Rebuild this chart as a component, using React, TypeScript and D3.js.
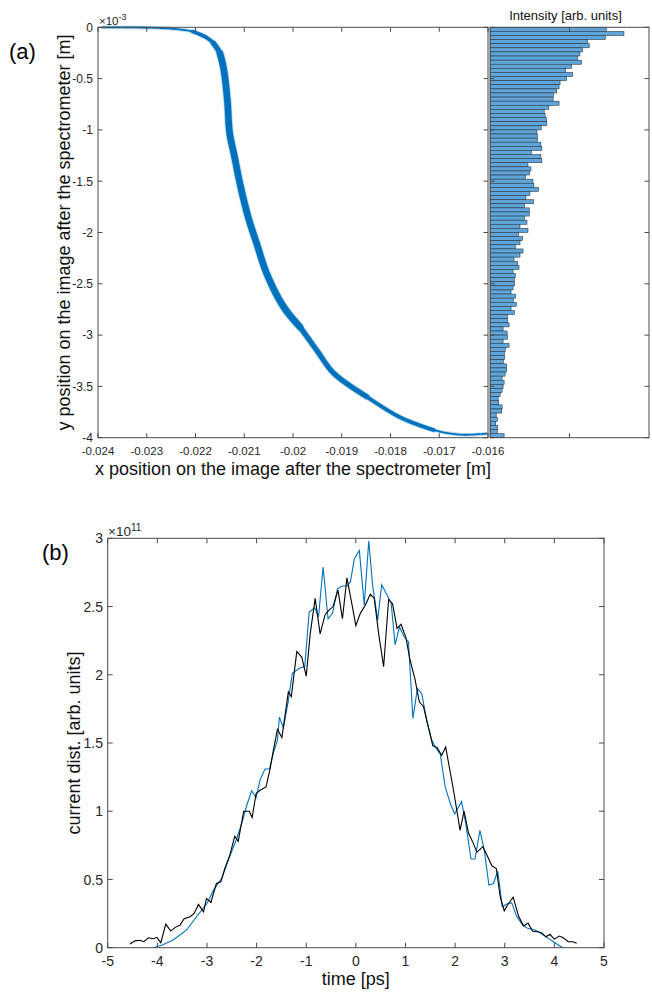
import React from 'react';
import * as d3 from 'd3';

// ---------- Panel (a): scatter centreline (x in m, y in 1e-3 m) and band width (px) ----------
const curveX = [-0.0239, -0.0226, -0.02205, -0.02176, -0.02163, -0.0215, -0.02143, -0.02138, -0.02134, -0.0213, -0.0212, -0.02109, -0.02092, -0.02075, -0.02054, -0.0202, -0.01986, -0.01951, -0.01917, -0.01849, -0.01781, -0.01712, -0.01657, -0.01603];
const curveY = [0, -0.01, -0.043, -0.104, -0.156, -0.253, -0.384, -0.55, -0.75, -1.03, -1.26, -1.52, -1.85, -2.10, -2.40, -2.72, -2.92, -3.15, -3.37, -3.60, -3.80, -3.925, -3.97, -3.96];
const curveW = [1.8, 1.8, 2.5, 3.5, 4.5, 5.5, 6.5, 7, 7, 7, 7, 7, 7, 7, 7, 6.5, 6, 5.5, 5, 4, 3.5, 2.5, 2, 2];
const bandLevels = [1.8, 3.5, 5, 6.5];

const xTicksA = [-0.024, -0.023, -0.022, -0.021, -0.02, -0.019, -0.018, -0.017, -0.016];
const yTicksA = [0, -0.5, -1, -1.5, -2, -2.5, -3, -3.5, -4];

// ---------- Histogram (100 bins from 0 to -4e-3) ----------
const histValues = [
  116.7, 134.3, 115.7, 97.7, 99.3, 92.7, 90, 87.7, 91.7, 81.7,
  75.7, 82.7, 76.7, 70, 69, 66.7, 63.3, 63, 69, 58.7,
  54, 55, 56.3, 56.7, 51, 46.7, 47.3, 47.3, 50.7, 51.7,
  41, 50.7, 51.7, 37.7, 40.7, 39.3, 35, 42.7, 43.7, 48.3,
  39.7, 35.7, 43.3, 34, 39, 39, 34.3, 36.7, 29.7, 37.7,
  28.3, 32.3, 29.7, 25, 32.7, 29.7, 23.7, 27.3, 28.7, 22.7,
  25, 24, 24.3, 22.7, 20.7, 25.3, 23, 26, 20.7, 24,
  17, 17.3, 18.7, 12.7, 16.7, 17.3, 12.7, 18.7, 15, 14,
  14.3, 13, 16.3, 16.3, 14.7, 11.7, 13.7, 12.7, 11.7, 9.7,
  7.7, 8.3, 11.7, 11.3, 5.7, 7, 5.3, 7.3, 7, 13.7,
];
const histDomain = [0, 160];
const histTicks = [80];

// ---------- Panel (b) ----------
const timeTicks = [-5, -4, -3, -2, -1, 0, 1, 2, 3, 4, 5];
const currentTicks = [0, 0.5, 1, 1.5, 2, 2.5, 3];

const blackT = [-4.55, -4.45, -4.35, -4.27, -4.18, -4.08, -4.01, -3.93, -3.83, -3.73, -3.64, -3.54, -3.46, -3.34, -3.26, -3.17, -3.07, -3.01, -2.92, -2.81, -2.72, -2.64, -2.54, -2.44, -2.37, -2.26, -2.15, -2.09, -2.01, -1.93, -1.81, -1.73, -1.66, -1.58, -1.49, -1.36, -1.30, -1.19, -1.09, -1.00, -0.92, -0.82, -0.72, -0.62, -0.55, -0.46, -0.36, -0.27, -0.18, -0.08, 0.00, 0.09, 0.19, 0.29, 0.37, 0.46, 0.56, 0.66, 0.74, 0.83, 0.91, 1.01, 1.09, 1.19, 1.28, 1.36, 1.46, 1.55, 1.63, 1.73, 1.81, 1.97, 2.10, 2.18, 2.27, 2.36, 2.44, 2.56, 2.64, 2.74, 2.83, 2.91, 2.99, 3.07, 3.17, 3.28, 3.38, 3.47, 3.56, 3.66, 3.74, 3.83, 3.91, 4.00, 4.10, 4.18, 4.28, 4.37, 4.45];
const blackV = [0.027, 0.05, 0.055, 0.044, 0.073, 0.066, 0.076, 0.037, 0.173, 0.122, 0.149, 0.166, 0.212, 0.227, 0.251, 0.317, 0.263, 0.361, 0.332, 0.471, 0.483, 0.58, 0.678, 0.817, 0.78, 1.0, 1.0, 0.954, 1.129, 1.154, 1.178, 1.307, 1.45, 1.6, 1.54, 1.875, 1.84, 2.17, 2.13, 1.99, 2.30, 2.56, 2.30, 2.44, 2.47, 2.50, 2.62, 2.41, 2.71, 2.52, 2.36, 2.45, 2.51, 2.59, 2.56, 2.30, 2.06, 2.55, 2.52, 2.34, 2.37, 2.27, 2.11, 1.97, 1.80, 1.77, 1.62, 1.48, 1.47, 1.41, 1.47, 1.15, 0.86, 1.0, 0.84, 0.77, 0.70, 0.74, 0.68, 0.60, 0.58, 0.37, 0.27, 0.32, 0.37, 0.23, 0.16, 0.18, 0.12, 0.117, 0.11, 0.08, 0.098, 0.063, 0.085, 0.073, 0.044, 0.044, 0.032];

const blueT = [-4.08, -3.9, -3.68, -3.41, -3.21, -3.0, -2.87, -2.7, -2.54, -2.40, -2.30, -2.2, -2.10, -2.01, -1.93, -1.83, -1.74, -1.66, -1.58, -1.54, -1.46, -1.36, -1.28, -1.13, -1.03, -0.94, -0.83, -0.75, -0.66, -0.56, -0.47, -0.37, -0.28, -0.18, -0.11, -0.03, 0.07, 0.17, 0.26, 0.34, 0.44, 0.52, 0.62, 0.71, 0.79, 0.88, 0.97, 1.06, 1.15, 1.24, 1.33, 1.43, 1.52, 1.60, 1.70, 1.80, 1.90, 1.99, 2.13, 2.21, 2.32, 2.40, 2.50, 2.59, 2.68, 2.77, 2.86, 2.95, 3.04, 3.14, 3.24, 3.36, 3.47, 3.58, 3.68, 3.78, 3.88, 3.98, 4.08, 4.17];
const blueV = [0, 0.02, 0.056, 0.13, 0.227, 0.324, 0.42, 0.51, 0.67, 0.80, 0.91, 1.04, 1.15, 1.10, 1.23, 1.31, 1.31, 1.43, 1.52, 1.69, 1.61, 1.81, 2.01, 2.05, 2.06, 2.46, 2.49, 2.43, 2.79, 2.41, 2.45, 2.63, 2.65, 2.65, 2.68, 2.85, 2.91, 2.51, 2.98, 2.65, 2.40, 2.66, 2.59, 2.53, 2.22, 2.35, 2.28, 2.24, 1.68, 1.90, 1.86, 1.66, 1.53, 1.47, 1.42, 1.18, 1.06, 0.98, 1.07, 0.92, 0.65, 0.65, 0.86, 0.71, 0.46, 0.47, 0.56, 0.30, 0.32, 0.33, 0.23, 0.166, 0.14, 0.134, 0.117, 0.093, 0.068, 0.044, 0.02, 0];

const FONT = 'Liberation Sans, Arial, Helvetica, sans-serif';
const AX = '#4a4a4a';
const TXT = '#262626';
const BLUE = '#0072BD';

export default function App() {
  // ---- Panel (a) geometry ----
  const aL = 98, aR = 488, aT = 27.3, aB = 437.7;
  const hL = 490, hR = 649;
  const xA = d3.scaleLinear().domain([-0.024, -0.016]).range([aL, aR]);
  const yA = d3.scaleLinear().domain([0, -4]).range([aT, aB]);
  const xH = d3.scaleLinear().domain(histDomain).range([hL, hR]);
  const nb = histValues.length;
  const binEdge = (i: number) => (-4 * i) / nb;

  const curvePts = curveX.map((x, i) => [x, curveY[i]] as [number, number]);
  const lineA = d3.line<[number, number]>().x(d => xA(d[0])).y(d => yA(d[1])).curve(d3.curveCatmullRom.alpha(0.5));
  const runs = bandLevels.map(lv => {
    const idx = curveW.map((w, i) => (w >= lv ? i : -1)).filter(i => i >= 0);
    const lo = Math.max(0, idx[0] - 1), hi = Math.min(curveW.length - 1, idx[idx.length - 1] + 1);
    const pts = curvePts.slice(lo, hi + 1);
    return { lv, d: lineA(pts) || '' };
  });

  // ---- Panel (b) geometry ----
  const bL = 107.7, bR = 604, bT = 538.3, bB = 947.7;
  const xB = d3.scaleLinear().domain([-5, 5]).range([bL, bR]);
  const yB = d3.scaleLinear().domain([0, 3]).range([bB, bT]);
  const lineB = d3.line<[number, number]>().x(d => xB(d[0])).y(d => yB(d[1]));
  const blackPts = blackT.map((t, i) => [t, blackV[i]] as [number, number]);
  const bluePts = blueT.map((t, i) => [t, blueV[i]] as [number, number]);

  const tl = 4.5;

  return (
    <svg width={652} height={992} style={{ position: 'absolute', left: 0, top: 0, background: '#fff' }} fontFamily={FONT}>
      <rect x={0} y={0} width={652} height={992} fill="#fff" />

      {/* ===== Panel (a) main ===== */}
      <g>
        {runs.map((r, i) => (
          <path key={'halo' + i} d={r.d} fill="none" stroke={BLUE} strokeOpacity={0.25}
            strokeWidth={r.lv + 2} strokeLinecap="round" strokeLinejoin="round" />
        ))}
        {runs.map((r, i) => (
          <path key={'band' + i} d={r.d} fill="none" stroke={BLUE}
            strokeWidth={r.lv} strokeLinecap="round" strokeLinejoin="round"
            strokeDasharray={i === 0 ? '8 1.5' : undefined} />
        ))}
        <rect x={aL} y={aT} width={aR - aL} height={aB - aT} fill="none" stroke={AX} strokeWidth={1} />
        {xTicksA.map((t, i) => (
          <g key={'xa' + i}>
            <line x1={xA(t)} x2={xA(t)} y1={aB} y2={aB - tl} stroke={AX} />
            <line x1={xA(t)} x2={xA(t)} y1={aT} y2={aT + tl} stroke={AX} />
            <text x={xA(t)} y={455} fontSize={11.5} fill={TXT} textAnchor="middle">{String(t)}</text>
          </g>
        ))}
        {yTicksA.map((t, i) => (
          <g key={'ya' + i}>
            <line x1={aL} x2={aL + tl} y1={yA(t)} y2={yA(t)} stroke={AX} />
            <line x1={aR} x2={aR - tl} y1={yA(t)} y2={yA(t)} stroke={AX} />
            <text x={93} y={yA(t)} dy="0.36em" fontSize={12} fill={TXT} textAnchor="end">{String(t)}</text>
          </g>
        ))}
        <text x={99} y={25} fontSize={11.5} fill={TXT}>×10<tspan dy={-5} fontSize={9}>-3</tspan></text>
        <text x={(aL + aR) / 2} y={475} fontSize={18} fill="#111" textAnchor="middle">x position on the image after the spectrometer [m]</text>
        <text transform={`translate(70,${(aT + aB) / 2}) rotate(-90)`} fontSize={18} fill="#111" textAnchor="middle">y position on the image after the spectrometer [m]</text>
        <text x={9} y={59} fontSize={22} fill="#000">(a)</text>
      </g>

      {/* ===== Histogram ===== */}
      <g>
        {histValues.map((v, i) => (
          <rect key={'h' + i}
            x={xH(0) + 0.5} y={yA(binEdge(i))} width={xH(v) - xH(0)} height={yA(binEdge(i + 1)) - yA(binEdge(i))}
            fill="#5FA5D9" stroke="#24313c" strokeWidth={0.55} />
        ))}
        <rect x={hL} y={aT} width={hR - hL} height={aB - aT} fill="none" stroke={AX} strokeWidth={1} />
        {yTicksA.map((t, i) => (
          <g key={'yh' + i}>
            <line x1={hL} x2={hL + tl} y1={yA(t)} y2={yA(t)} stroke={AX} />
            <line x1={hR} x2={hR - tl} y1={yA(t)} y2={yA(t)} stroke={AX} />
          </g>
        ))}
        {histTicks.map((t, i) => (
          <g key={'xh' + i}>
            <line x1={xH(t)} x2={xH(t)} y1={aB} y2={aB - tl} stroke={AX} />
            <line x1={xH(t)} x2={xH(t)} y1={aT} y2={aT + tl} stroke={AX} />
          </g>
        ))}
        <text x={(hL + hR) / 2 - 4} y={20} fontSize={13} fill="#111" textAnchor="middle">Intensity [arb. units]</text>
      </g>

      {/* ===== Panel (b) ===== */}
      <g>
        <path d={lineB(bluePts) || ''} fill="none" stroke={BLUE} strokeWidth={1.1} />
        <path d={lineB(blackPts) || ''} fill="none" stroke="#000" strokeWidth={1.1} />
        <rect x={bL} y={bT} width={bR - bL} height={bB - bT} fill="none" stroke={AX} strokeWidth={1} />
        {timeTicks.map((t, i) => (
          <g key={'xb' + i}>
            <line x1={xB(t)} x2={xB(t)} y1={bB} y2={bB - 5} stroke={AX} />
            <line x1={xB(t)} x2={xB(t)} y1={bT} y2={bT + 5} stroke={AX} />
            <text x={xB(t)} y={966} fontSize={14} fill={TXT} textAnchor="middle">{String(t)}</text>
          </g>
        ))}
        {currentTicks.map((t, i) => (
          <g key={'yb' + i}>
            <line x1={bL} x2={bL + 5} y1={yB(t)} y2={yB(t)} stroke={AX} />
            <line x1={bR} x2={bR - 5} y1={yB(t)} y2={yB(t)} stroke={AX} />
            <text x={103} y={yB(t)} dy="0.36em" fontSize={14} fill={TXT} textAnchor="end">{String(t)}</text>
          </g>
        ))}
        <text x={108} y={536} fontSize={13.5} fill={TXT}>×10<tspan dy={-5} fontSize={10}>11</tspan></text>
        <text x={(bL + bR) / 2} y={985} fontSize={18} fill="#111" textAnchor="middle">time [ps]</text>
        <text transform={`translate(80,${(bT + bB) / 2}) rotate(-90)`} fontSize={18} fill="#111" textAnchor="middle">current dist. [arb. units]</text>
        <text x={42} y={560} fontSize={22} fill="#000">(b)</text>
      </g>
    </svg>
  );
}
